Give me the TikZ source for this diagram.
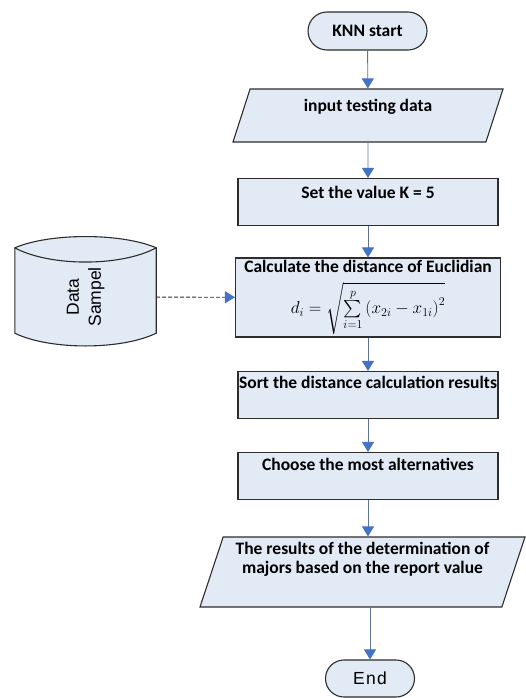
\documentclass[tikz,border=0pt]{standalone}
\usepackage{amsmath}
\usepackage{fontspec}
\setmainfont{Carlito}
\newfontfamily\arialfont{Liberation Sans}
\usetikzlibrary{arrows.meta,shapes.geometric,shapes.misc,backgrounds}
\definecolor{knnfill}{RGB}{226,234,246}
\definecolor{knnline}{RGB}{45,45,45}
\definecolor{knnblue}{RGB}{68,114,196}
\definecolor{knngray}{RGB}{95,115,150}
\tikzstyle{terminal} = [rounded rectangle, draw=knnline, fill=knnfill, line width=1.1pt, inner sep=0pt]
\tikzstyle{procbox} = [rectangle, draw=knnline, fill=knnfill, line width=1.1pt, minimum width=260pt, minimum height=47pt, inner sep=0pt]
\tikzstyle{iobox} = [trapezium, trapezium stretches body, draw=knnline, fill=knnfill, line width=1.1pt, inner sep=0pt]
\tikzstyle{flowarrow} = [line width=0.9pt, color=knngray, -{Triangle[width=12pt,length=10pt,color=knnblue]}]
\tikzstyle{dataarrow} = [flowarrow, dash pattern=on 4pt off 2pt, color=knnline]

\begin{document}
\begin{tikzpicture}[x=1pt, y=-1pt, font=\fontsize{17.5}{19}\selectfont\bfseries]
\useasboundingbox (0,0) rectangle (525,698);

% Main flow
\node[terminal, minimum width=119pt, minimum height=38pt] (start) at (367.5,31) {KNN start};
\node[iobox, trapezium left angle=64, trapezium right angle=116, minimum width=270pt, minimum height=53pt, text height=13pt, text depth=22pt] (input) at (368,115.5) {input testing data};
\node[procbox, text height=13pt, text depth=20pt] (setk) at (368,202) {Set the value K = 5};
\node[procbox, minimum width=265pt, minimum height=79pt, align=center] (euclid) at (368,297.5)
  {Calculate the distance of Euclidian\\[9pt]
   $d_i = \sqrt{\sum\limits_{i=1}^{p}\left(x_{2i} - x_{1i}\right)^2}$};
\node[procbox, text height=13pt, text depth=26pt] (sortres) at (368,395) {Sort the distance calculation results};
\node[procbox, text height=13pt, text depth=24pt] (choose) at (368,476) {Choose the most alternatives};
\node[iobox, trapezium left angle=69, trapezium right angle=111, minimum width=325pt, minimum height=70pt, align=center, text depth=29pt] (results) at (362.5,572)
  {The results of the determination of\\majors based on the report value};
\node[terminal, minimum width=89pt, minimum height=37pt, font=\arialfont\fontsize{17.5}{19}\selectfont\addfontfeatures{LetterSpace=8}] (endnode) at (370,678.5) {End};

% Data store
\node[minimum width=141pt, minimum height=98pt, inner sep=0pt, font=\arialfont\fontsize{17.5}{22}\selectfont] (sample) at (85.5,297)
  {\rotatebox{90}{\begin{tabular}{@{}c@{}}Data\\Sampel\end{tabular}}};
\begin{scope}[on background layer]
\draw[knnline, line width=1.1pt, fill=knnfill] (sample.north west)
  .. controls +(35,-15) and +(-35,-15) .. (sample.north east)
  -- ([yshift=13pt]sample.south east)
  .. controls +(-35,17) and +(35,17) .. ([yshift=13pt]sample.south west) -- cycle;
\draw[knnline, line width=1.1pt] (sample.north east)
  .. controls +(-35,19) and +(35,19) .. (sample.north west);
\end{scope}

% Arrows
\draw[flowarrow] (start) -- (input);
\draw[flowarrow] (input) -- (setk);
\draw[flowarrow] (setk) -- (euclid);
\draw[flowarrow] (euclid) -- (sortres);
\draw[flowarrow] (sortres) -- (choose);
\draw[flowarrow] (choose.south) -- (choose.south |- results.north);
\draw[flowarrow] (results.south -| endnode.north) -- (endnode.north);
\draw[dataarrow] (sample) -- (euclid);
\end{tikzpicture}
\end{document}
